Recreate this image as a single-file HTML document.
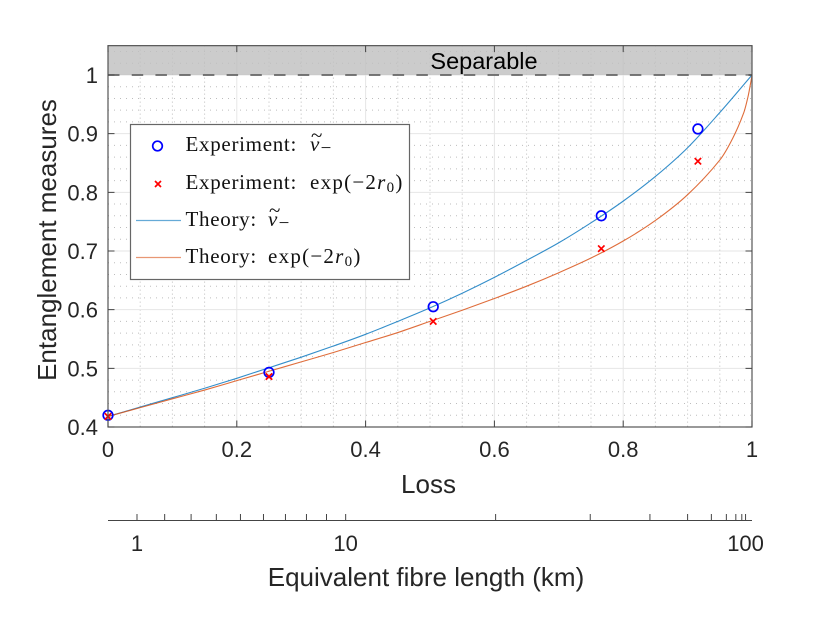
<!DOCTYPE html>
<html>
<head>
<meta charset="utf-8">
<style>
html,body{margin:0;padding:0;background:#fff;}
svg{display:block;}
text{font-family:"Liberation Sans",sans-serif;fill:#262626;}
.leg text{font-family:"Liberation Serif",serif;fill:#111;font-size:21px;letter-spacing:.7px;}
.leg text.math{letter-spacing:1.25px;}
</style>
</head>
<body>
<svg id="chart" xmlns="http://www.w3.org/2000/svg" width="830" height="623" viewBox="0 0 830 623">
<g id="grid"></g>
<g id="patch"></g>
<g id="series"></g>
<g id="axes"></g>
<text x="484" y="69" text-anchor="middle" font-size="23.5" style="fill:#000">Separable</text>
<text x="428.5" y="493" text-anchor="middle" font-size="26">Loss</text>
<text transform="translate(56,240) rotate(-90)" text-anchor="middle" font-size="26">Entanglement measures</text>
<text x="426" y="586" text-anchor="middle" font-size="26">Equivalent fibre length (km)</text>
<g class="leg">
  <rect x="130.5" y="124.5" width="279" height="155" fill="#fff" stroke="#666" stroke-width="1.2"/>
  <circle cx="157.5" cy="146" r="4.8" fill="none" stroke="#0000ff" stroke-width="1.7"/>
  <path d="M155 181 L161 187 M161 181 L155 187" stroke="#ff0000" stroke-width="1.7" fill="none"/>
  <line x1="136" x2="181" y1="220.5" y2="220.5" stroke="#0072BD" stroke-width="1.2" opacity=".6"/>
  <line x1="136" x2="181" y1="257.5" y2="257.5" stroke="#D95319" stroke-width="1.2" opacity=".6"/>

  <text x="185.5" y="151">Experiment:</text>
  <text class="math" x="310" y="151"><tspan font-style="italic">ν</tspan><tspan dy="3" font-size="19">−</tspan></text>
  <text x="311" y="142">~</text>

  <text x="185.5" y="189">Experiment:</text>
  <text class="math" x="310" y="189">exp(−2<tspan font-style="italic">r</tspan><tspan dy="3" font-size="15">0</tspan><tspan dy="-3">)</tspan></text>

  <text x="185.5" y="226">Theory:</text>
  <text class="math" x="268" y="226"><tspan font-style="italic">ν</tspan><tspan dy="3" font-size="19">−</tspan></text>
  <text x="269" y="217">~</text>

  <text x="185.5" y="263">Theory:</text>
  <text class="math" x="268" y="263">exp(−2<tspan font-style="italic">r</tspan><tspan dy="3" font-size="15">0</tspan><tspan dy="-3">)</tspan></text>
</g>
</svg>
<script>
// ---- data ----
const xTicks = [0, 0.2, 0.4, 0.6, 0.8, 1];
const yTicks = [0.4, 0.5, 0.6, 0.7, 0.8, 0.9, 1];
const xMinorTicks = [0.05,0.1,0.15,0.25,0.3,0.35,0.45,0.5,0.55,0.65,0.7,0.75,0.85,0.9,0.95];
const yMinorTicks = [0.42,0.44,0.46,0.48,0.52,0.54,0.56,0.58,0.62,0.64,0.66,0.68,0.72,0.74,0.76,0.78,0.82,0.84,0.86,0.88,0.92,0.94,0.96,0.98,1.02,1.04];
const fibreTicks = [1,2,3,4,5,6,7,8,9,10,20,30,40,50,60,70,80,90,100];
const fibreLabels = [1,10,100];
const expLoss = [0, 0.25, 0.505, 0.766, 0.916];
const expNu = [0.42, 0.493, 0.605, 0.76, 0.908];
const expExp = [0.418, 0.486, 0.58, 0.704, 0.853];
const theoryLoss = [0,0.05,0.1,0.15,0.2,0.25,0.3,0.35,0.4,0.45,0.5,0.55,0.6,0.65,0.7,0.75,0.8,0.85,0.9,0.95,1];
const theoryNu = [0.418,0.434,0.45,0.466,0.483,0.501,0.519,0.538,0.558,0.58,0.603,0.628,0.655,0.684,0.714,0.748,0.785,0.827,0.876,0.936,1];
const theoryExpLoss = [0,0.05,0.1,0.15,0.2,0.25,0.3,0.35,0.4,0.45,0.5,0.55,0.6,0.65,0.7,0.75,0.8,0.85,0.9,0.95,0.97,0.987,0.994,0.9985,1];
const theoryExp = [0.418,0.433,0.448,0.463,0.479,0.495,0.511,0.527,0.544,0.561,0.58,0.599,0.619,0.64,0.663,0.688,0.717,0.752,0.796,0.855,0.892,0.935,0.964,0.99,1];
const separableRange = [1, 1.05];

// ---- axis functions ----
const NS = 'http://www.w3.org/2000/svg';
function X(v){ return 108 + v * 644; }
function Y(v){ return 427 - (v - 0.4) * 586.7; }
function fibreToLoss(km){ return 1 - Math.pow(10, -0.02 * km); }
function make(parent, tag, attrs, text){
  const el = document.createElementNS(NS, tag);
  for (const k in attrs) el.setAttribute(k, attrs[k]);
  if (text !== undefined) el.textContent = text;
  parent.appendChild(el);
  return el;
}
const grid = document.getElementById('grid');
const patch = document.getElementById('patch');
const series = document.getElementById('series');
const axes = document.getElementById('axes');
const top_ = Y(separableRange[1]), bottom = Y(0.4), left = X(0), right = X(1);

// minor grid
xMinorTicks.forEach(v => {
  const el = make(grid, 'line', {x1:X(v), x2:X(v), y1:top_, y2:bottom, stroke:'#bdbdbd', 'stroke-width':1, 'stroke-dasharray':'1 3'});
  
  
});
yMinorTicks.forEach(v => {
  const el = make(grid, 'line', {x1:left, x2:right, y1:Y(v), y2:Y(v), stroke:'#bdbdbd', 'stroke-width':1, 'stroke-dasharray':'1 5'});
  
  
});
// major grid
xTicks.forEach(v => {
  const el = make(grid, 'line', {x1:X(v), x2:X(v), y1:top_, y2:bottom, stroke:'#e6e6e6', 'stroke-width':1});
  
  
});
yTicks.forEach(v => {
  const el = make(grid, 'line', {x1:left, x2:right, y1:Y(v), y2:Y(v), stroke:'#e6e6e6', 'stroke-width':1});
  
  
});

// separable patch
const patchRect = make(patch, 'rect', {x:left, y:Y(separableRange[1]), width:right-left, height:Y(separableRange[0])-Y(separableRange[1]), fill:'#bfbfbf', 'fill-opacity':0.8});


const dash = make(patch, 'line', {x1:left, x2:right, y1:Y(separableRange[0]), y2:Y(separableRange[0]), stroke:'#666', 'stroke-width':1.8, 'stroke-dasharray':'11.5 12.22'});



// smooth curve through the data values
function linePath(xs, ys){
  const p = xs.map((v,i) => [X(v), Y(ys[i])]);
  let d = 'M' + p[0][0].toFixed(2) + ' ' + p[0][1].toFixed(2);
  for (let i = 0; i < p.length - 1; i++) {
    const a = p[Math.max(i-1,0)], b = p[i], c = p[i+1], e = p[Math.min(i+2,p.length-1)];
    const h = c[0] - b[0];
    const m1 = (c[1]-a[1]) / Math.max(c[0]-a[0], 0.01);
    const m2 = (e[1]-b[1]) / Math.max(e[0]-b[0], 0.01);
    d += ' C' + (b[0]+h/3).toFixed(2) + ' ' + (b[1]+m1*h/3).toFixed(2) + ' ' +
         (c[0]-h/3).toFixed(2) + ' ' + (c[1]-m2*h/3).toFixed(2) + ' ' +
         c[0].toFixed(2) + ' ' + c[1].toFixed(2);
  }
  return d;
}
const lineNu = make(series, 'path', {d:linePath(theoryLoss, theoryNu), fill:'none', stroke:'#0072BD', 'stroke-width':1.1, opacity:.8});


const lineExp = make(series, 'path', {d:linePath(theoryExpLoss, theoryExp), fill:'none', stroke:'#D95319', 'stroke-width':1.1, opacity:.85});



// experimental points
expLoss.forEach((v,i) => {
  const c = make(series, 'circle', {cx:X(v), cy:Y(expNu[i]), r:4.8, fill:'none', stroke:'#0000ff', 'stroke-width':1.7});
  
  
  const px = X(v), py = Y(expExp[i]);
  const m = make(series, 'path', {d:`M${px-3.2} ${py-3.2} L${px+3.2} ${py+3.2} M${px+3.2} ${py-3.2} L${px-3.2} ${py+3.2}`, fill:'none', stroke:'#ff0000', 'stroke-width':1.7});
  
  
});

// axes box
const box = make(axes, 'rect', {x:left, y:top_, width:right-left, height:bottom-top_, fill:'none', stroke:'#555', 'stroke-width':1.2});



// primary ticks and labels
xTicks.forEach(v => {
  const t = make(axes, 'path', {d:`M${X(v)} ${bottom} v-6.5 M${X(v)} ${top_} v6.5`, stroke:'#444', 'stroke-width':1, fill:'none'});
  
  
  const l = make(axes, 'text', {x:X(v), y:457, 'text-anchor':'middle', 'font-size':22}, String(v));
  
  
});
yTicks.forEach(v => {
  const t = make(axes, 'path', {d:`M${left} ${Y(v)} h6.5 M${right} ${Y(v)} h-6.5`, stroke:'#444', 'stroke-width':1, fill:'none'});
  
  
  const l = make(axes, 'text', {x:98, y:Y(v)+8, 'text-anchor':'end', 'font-size':22}, String(v));
  
  
});

// secondary fibre-length axis
const fibreLine = make(axes, 'line', {x1:left, x2:right, y1:520.5, y2:520.5, stroke:'#444', 'stroke-width':1});


fibreTicks.forEach(km => {
  const px = X(fibreToLoss(km));
  const t = make(axes, 'line', {x1:px, x2:px, y1:520.5, y2:514, stroke:'#444', 'stroke-width':1});
  
  
});
fibreLabels.forEach(km => {
  const l = make(axes, 'text', {x:X(fibreToLoss(km)), y:551, 'text-anchor':'middle', 'font-size':22}, String(km));
  
  
});
</script>
</body>
</html>
